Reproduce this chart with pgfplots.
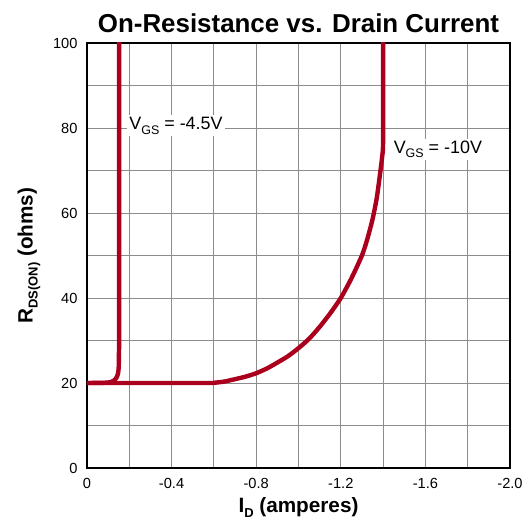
\documentclass[border=0pt]{standalone}
\usepackage{pgfplots}
\pgfplotsset{compat=1.18}
\usepackage{fontspec}
\setmainfont{Liberation Sans}
\definecolor{curvered}{RGB}{170,0,30}
\definecolor{gridgray}{RGB}{140,140,140}

\pgfplotstableread{
x y
0 20
-0.08 20.05
-0.11 20.2
-0.128 20.6
-0.140 21.3
-0.147 22.3
-0.150 23.8
-0.151 27
-0.152 34
-0.152 100
}\lowgate

\pgfplotstableread{
x y
0 20
-0.55 20
-0.60 20.05
-0.65 20.35
-0.70 20.9
-0.75 21.5
-0.80 22.3
-0.85 23.4
-0.90 24.8
-0.95 26.3
-1.00 28.2
-1.05 30.4
-1.10 33.2
-1.15 36.4
-1.20 40
-1.25 44.6
-1.30 50
-1.325 53.8
-1.35 58.5
-1.37 63.5
-1.385 69
-1.395 73
-1.40 77
-1.40 100
}\highgate

\begin{document}
\begin{tikzpicture}
\begin{axis}[
  scale only axis,
  width=423bp, height=425bp,
  xmin=-2, xmax=0, x dir=reverse,
  ymin=0, ymax=100,
  xtick={0,-0.4,-0.8,-1.2,-1.6,-2.0},
  xticklabels={0,-0.4,-0.8,-1.2,-1.6,-2.0},
  minor xtick={-0.2,-0.6,-1.0,-1.4,-1.8},
  ytick={0,20,40,60,80,100},
  yticklabels={0,20,40,60,80,100},
  minor ytick={10,30,50,70,90},
  grid=both,
  major grid style={gridgray, line width=0.9bp},
  minor grid style={gridgray, line width=0.9bp},
  major tick length=0pt, minor tick length=0pt,
  axis line style={black, line width=2.4bp},
  tick label style={font=\fontsize{14.7}{17}\selectfont},
  xticklabel style={yshift=-7bp},
  yticklabel style={xshift=-6bp},
  title={On-Resistance vs. Drain Current},
  title style={font=\bfseries\fontsize{26}{30}\selectfont, yshift=1bp},
  xlabel={I\raisebox{-0.45ex}{\fontsize{13}{13}\selectfont D} (amperes)},
  ylabel={R\raisebox{-0.45ex}{\fontsize{13}{13}\selectfont DS(ON)} (ohms)},
  label style={font=\bfseries\fontsize{20.8}{24}\selectfont},
  xlabel style={yshift=-2bp},
  ylabel style={yshift=6bp},
]
\addplot[curvered, line width=4.4bp, line join=round, line cap=round, smooth, tension=0.4] table[x=x, y=y] {\highgate};
\addplot[curvered, line width=4.4bp, line join=round, line cap=round, smooth, tension=0.4] table[x=x, y=y] {\lowgate};
\node[anchor=west, fill=white, inner sep=2bp, font=\fontsize{18}{21}\selectfont]
  at (axis cs:-0.19,80.5) {V\raisebox{-0.5ex}{\fontsize{12.5}{12.5}\selectfont GS} = -4.5V};
\node[anchor=west, fill=white, inner sep=2bp, font=\fontsize{18}{21}\selectfont]
  at (axis cs:-1.44,75) {V\raisebox{-0.5ex}{\fontsize{12.5}{12.5}\selectfont GS} = -10V};
\end{axis}
\pgfresetboundingbox
\path ([shift={(-87bp,-61bp)}]current axis.south west) rectangle ([shift={(21bp,43bp)}]current axis.north east);
\end{tikzpicture}
\end{document}
